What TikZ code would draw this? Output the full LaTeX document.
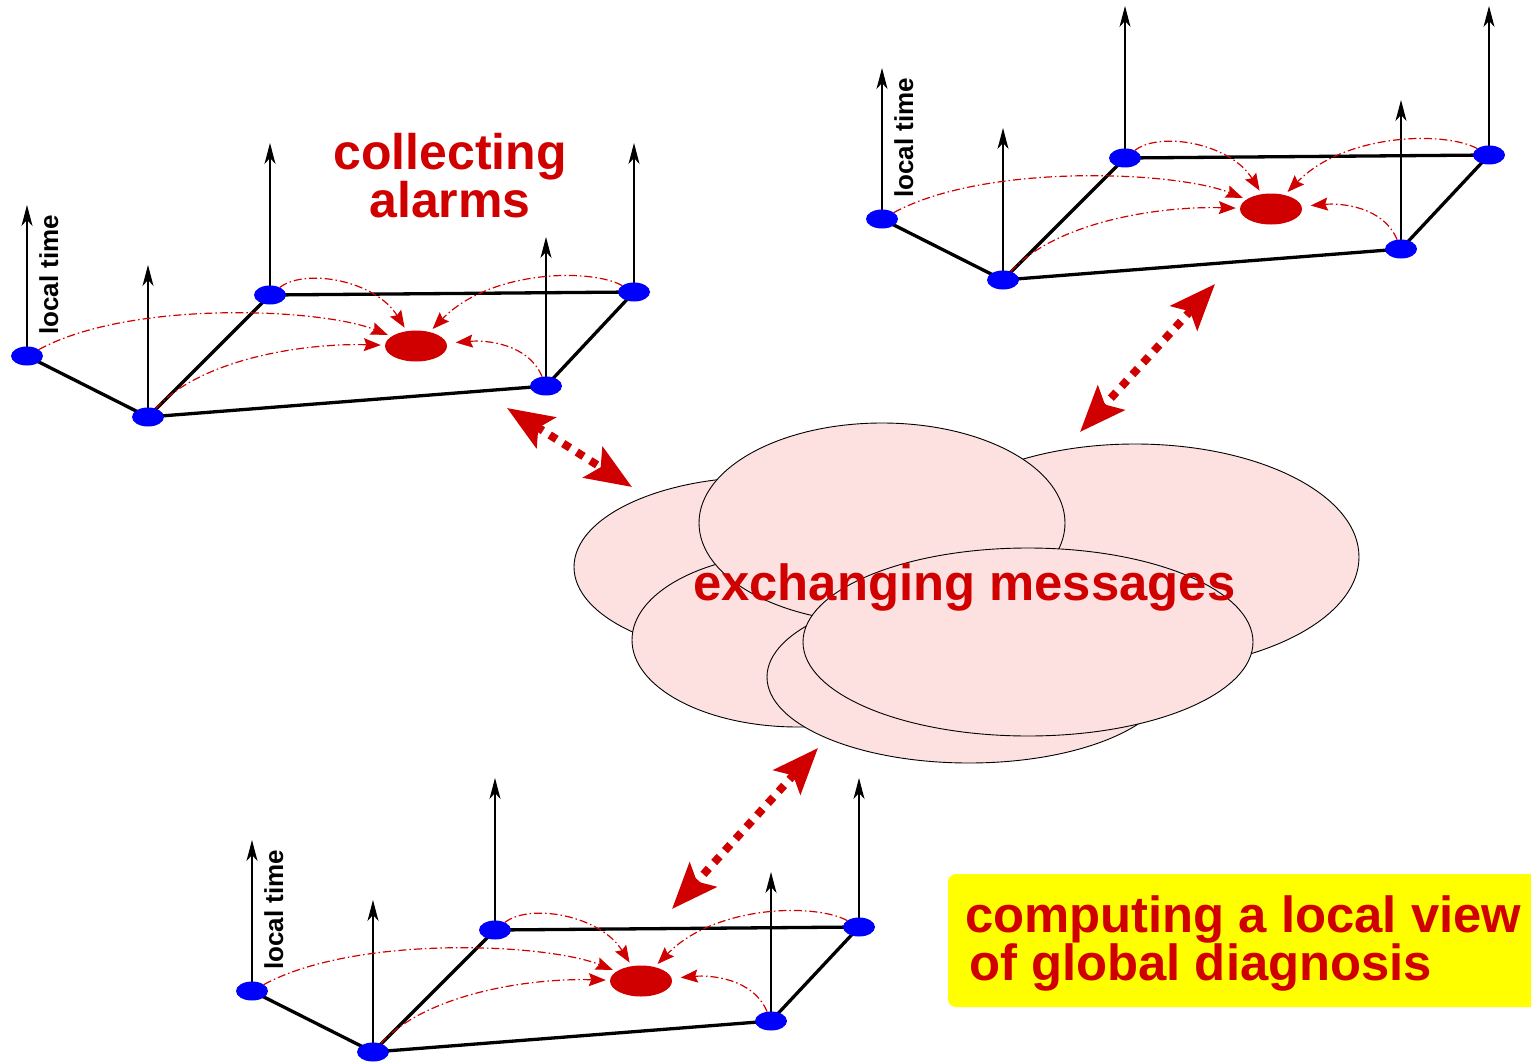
\documentclass[tikz,border=0pt]{standalone}
\usepackage{fontspec}
\setmainfont{Liberation Sans}
\usetikzlibrary{arrows.meta,shapes.geometric}

\definecolor{alarmred}{RGB}{208,0,0}
\definecolor{cloudpink}{RGB}{253,224,224}
\definecolor{siteblue}{RGB}{0,0,255}
\definecolor{notebg}{RGB}{255,255,0}

\pgfdeclarelayer{bg}
\pgfsetlayers{bg,main}

\tikzset{
  site node/.style={ellipse, fill=siteblue, draw=none, minimum width=32pt,
    minimum height=19pt, inner sep=0pt},
  diag node/.style={ellipse, fill=alarmred, draw=none, minimum width=62pt,
    minimum height=31pt, inner sep=0pt},
  time axis/.style={line width=1.1pt, -{Stealth[length=21pt,width=11pt,inset=6pt]}},
  link/.style={line width=3.3pt, line join=round},
  alarm flow/.style={alarmred, line width=1.2pt,
    dash pattern=on 8pt off 3pt on 1.5pt off 3pt,
    -{Stealth[length=17pt,width=13pt,inset=2.5pt]}, shorten >=4pt},
  exchange/.style={alarmred, line width=8pt, dash pattern=on 8pt off 8pt,
    {Stealth[length=46pt,width=36pt,inset=9pt]}-{Stealth[length=46pt,width=36pt,inset=9pt]}},
  puff/.style={fill=cloudpink, draw=black, line width=0.9pt},
  big label/.style={text=alarmred, font=\fontsize{50}{44}\selectfont\bfseries, inner sep=0pt},
  wide label/.style={text=alarmred, font=\fontsize{50.8}{48}\selectfont\bfseries, inner sep=0pt},
  axis label/.style={font=\fontsize{26}{26}\selectfont\bfseries, rotate=90,
    anchor=base west, inner sep=0pt},
  % one site: five local components on a plane, each with its time axis,
  % sending alarms to the local diagnoser
  site/.pic={
    \node[site node] (-a) at (27,356) {};
    \node[site node] (-b) at (148,417) {};
    \node[site node] (-c) at (270,295) {};
    \node[site node] (-d) at (634,292) {};
    \node[site node] (-e) at (546,386) {};
    \node[diag node] (-m) at (416,346) {};
    \begin{pgfonlayer}{bg}
      \draw[time axis] (-a.center) -- ++(0,-151);
      \draw[time axis] (-b.center) -- ++(0,-152);
      \draw[time axis] (-c.center) -- ++(0,-152);
      \draw[time axis] (-d.center) -- ++(0,-149);
      \draw[time axis] (-e.center) -- ++(0,-149);
      \draw[link] (-a.center) -- (-b.center) -- (-c.center) -- (-d.center)
        -- (-e.center) -- (-b.center);
    \end{pgfonlayer}
    \draw[alarm flow] (-a) .. controls +(103,-56) and +(-96,-38) .. (-m);
    \draw[alarm flow] (-b) .. controls +(52,-57) and +(-116,-3) .. (-m);
    \draw[alarm flow] (-c) .. controls +(35,-27) and +(-41,-66) .. (-m);
    \draw[alarm flow] (-d) .. controls +(-44,-24) and +(74,-76) .. (-m);
    \draw[alarm flow, shorten >=9pt] (-e) .. controls +(-18,-43) and +(69,-6) .. (-m);
    \node[axis label] (-lt) at (58,335) {local time};
  }
}

\begin{document}
\begin{tikzpicture}[x=1pt,y=-1pt]
  \useasboundingbox (0,0) rectangle (1531,1062);

  % the message-exchange cloud
  \filldraw[puff] (764,567) ellipse [x radius=190, y radius=90];
  \filldraw[puff] (798,640) ellipse [x radius=166, y radius=87];
  \filldraw[puff] (1135,557) ellipse [x radius=224, y radius=113];
  \filldraw[puff] (882,523) ellipse [x radius=183, y radius=100];
  \filldraw[puff] (969,677) ellipse [x radius=202, y radius=86];
  \filldraw[puff] (1028,642) ellipse [x radius=225, y radius=94];
  \node[wide label, anchor=base west] (xmsg) at (693,600) {exchanging messages};

  % the three sites
  \pic (g1) at (0,0) {site};
  \pic (g2) at (855,-137) {site};
  \pic (g3) at (225,635) {site};

  % exchanges between sites and the cloud
  \coordinate (d1a) at (507,408);
  \coordinate (d1b) at (632,487);
  \coordinate (d2a) at (1215,284);
  \coordinate (d2b) at (1080,432);
  \coordinate (d3a) at (818,748);
  \coordinate (d3b) at (672,909);
  \draw[exchange] (d1a) -- (d1b);
  \draw[exchange] (d2a) -- (d2b);
  \draw[exchange] (d3a) -- (d3b);

  \node[big label, align=center, anchor=north] (collect) at (450,133.5) {collecting\\alarms};

  % result note
  \fill[notebg, rounded corners=8pt] (948,874) rectangle (1545,1007);
  \node[wide label, anchor=base west] (view1) at (965,932) {computing a local view};
  \node[wide label, anchor=base west] (view2) at (969,980) {of global diagnosis};
\end{tikzpicture}
\end{document}
